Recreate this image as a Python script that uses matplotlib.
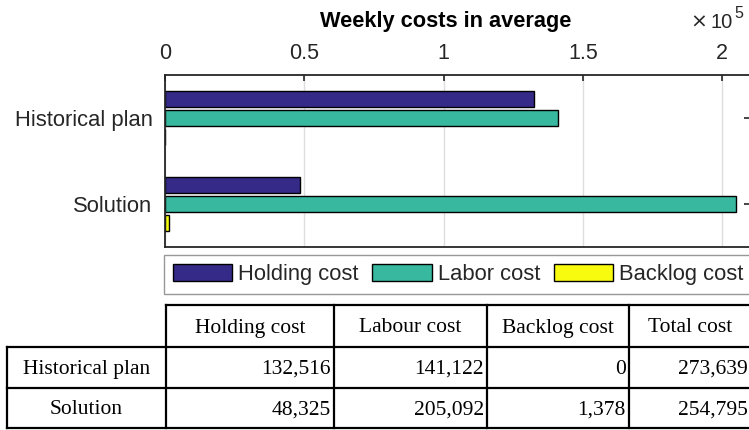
import matplotlib
matplotlib.use("Agg")
import matplotlib.pyplot as plt
import numpy as np
from matplotlib.ticker import FuncFormatter

plt.rcParams['font.family'] = ['Liberation Sans', 'DejaVu Sans']

# ---- data ----
plans = ["Historical plan", "Solution"]
series_names = ["Holding cost", "Labor cost", "Backlog cost"]
holding = [132516, 48325]
labor = [141122, 205092]
backlog = [0, 1378]
colors = ["#352A87", "#38B89E", "#F9FB0E"]
x_ticks = [0, 0.5e5, 1e5, 1.5e5, 2e5]

table_cols = ["Holding cost", "Labour cost", "Backlog cost", "Total cost"]
table_rows = ["Historical plan", "Solution"]
table_holding = [132516, 48325]
table_labour = [141122, 205092]
table_backlog = [0, 1378]
table_total = [273639, 254795]

W, H = 749, 430
fig = plt.figure(figsize=(W / 100, H / 100), dpi=100)

def fx(px):
    return px / W

def fy(py):
    return 1 - py / H

# ---- bar axes ----
ax = fig.add_axes([fx(165), fy(247), fx(750) - fx(165), fy(75) - fy(247)])
ypos = np.arange(1, len(plans) + 1)
off = 0.22
hgt = 0.186
bars = []
for i, (vals, name) in enumerate(zip([holding, labor, backlog], series_names)):
    b = ax.barh(ypos + (i - 1) * off, vals, height=hgt, color=colors[i],
                edgecolor='black', linewidth=1.0, label=name, zorder=3)
    bars.append(b)
ax.set_ylim(2.5, 0.5)
ax.set_xlim(0, 2.1e5)
ax.set_yticks(ypos)
ax.set_yticklabels(plans)
ax.set_xticks(x_ticks)
ax.xaxis.set_major_formatter(FuncFormatter(lambda v, p: f"{v/1e5:g}"))
ax.xaxis.tick_top()
ax.tick_params(axis='x', direction='in', length=4, width=1.2, pad=8,
               labelsize=15.5, labelcolor='#262626', color='#262626')
ax.tick_params(axis='y', direction='in', length=4, width=1.2, pad=9,
               labelsize=15.8, labelcolor='#262626', color='#262626',
               right=True)
ax.grid(axis='x', color='#DEDEDE', linewidth=1.0, zorder=0)
for s in ax.spines.values():
    s.set_linewidth(1.3)
    s.set_color('#262626')
    s.set_zorder(4)

fig.text(fx(446), fy(22), "Weekly costs in average", ha='center', va='center',
         fontsize=15.7, fontweight='bold', color='black')
fig.text(fx(733), fy(28), "10", ha='right', va='baseline',
         fontsize=14.5, color='#262626')
fig.text(fx(707), fy(28), "\u00d7", ha='right', va='baseline',
         fontsize=14.5, color='#262626', family=['DejaVu Sans'])
fig.text(fx(734), fy(18), "5", ha='left', va='baseline',
         fontsize=11.5, color='#262626')

# ---- legend ----
leg = fig.legend(handles=bars, labels=series_names, ncol=3, loc='upper left',
                 bbox_to_anchor=(fx(164), fy(255)), borderaxespad=0,
                 fontsize=15.8, handlelength=2.7, handleheight=0.82,
                 handletextpad=0.28, columnspacing=0.62, borderpad=0.4,
                 fancybox=False, frameon=True)
leg.get_frame().set_edgecolor('#7F7F7F')
leg.get_frame().set_linewidth(1.0)
for t in leg.get_texts():
    t.set_color('#262626')

# ---- table ----
tax = fig.add_axes([0, 0, 1, 1])
tax.set_xlim(0, W)
tax.set_ylim(H, 0)
tax.axis('off')
col_x = [7, 166, 334, 487, 629, 751]
row_y = [305, 347, 388, 428]
lw = 1.6
tax.plot([col_x[1], col_x[-1]], [row_y[0]] * 2, color='black', lw=lw)
for yy in row_y[1:]:
    tax.plot([col_x[0], col_x[-1]], [yy] * 2, color='black', lw=lw)
tax.plot([col_x[0]] * 2, [row_y[1], row_y[-1]], color='black', lw=lw)
for xx in col_x[1:]:
    tax.plot([xx] * 2, [row_y[0], row_y[-1]], color='black', lw=lw)

tfont = dict(family=['Liberation Serif', 'DejaVu Serif'], fontsize=15.5, color='black')
for j, c in enumerate(table_cols):
    tax.text((col_x[j + 1] + col_x[j + 2]) / 2, (row_y[0] + row_y[1]) / 2 + 6.5, c,
             ha='center', va='baseline', **tfont)
cols = [table_holding, table_labour, table_backlog, table_total]
for i, r in enumerate(table_rows):
    yb = (row_y[i + 1] + row_y[i + 2]) / 2 + 6.5
    tax.text((col_x[0] + col_x[1]) / 2, yb, r, ha='center', va='baseline', **tfont)
    for j, colv in enumerate(cols):
        tax.text(col_x[j + 2] - 3, yb, f"{colv[i]:,}", ha='right', va='baseline', **tfont)

fig.savefig("out.png", dpi=100)
